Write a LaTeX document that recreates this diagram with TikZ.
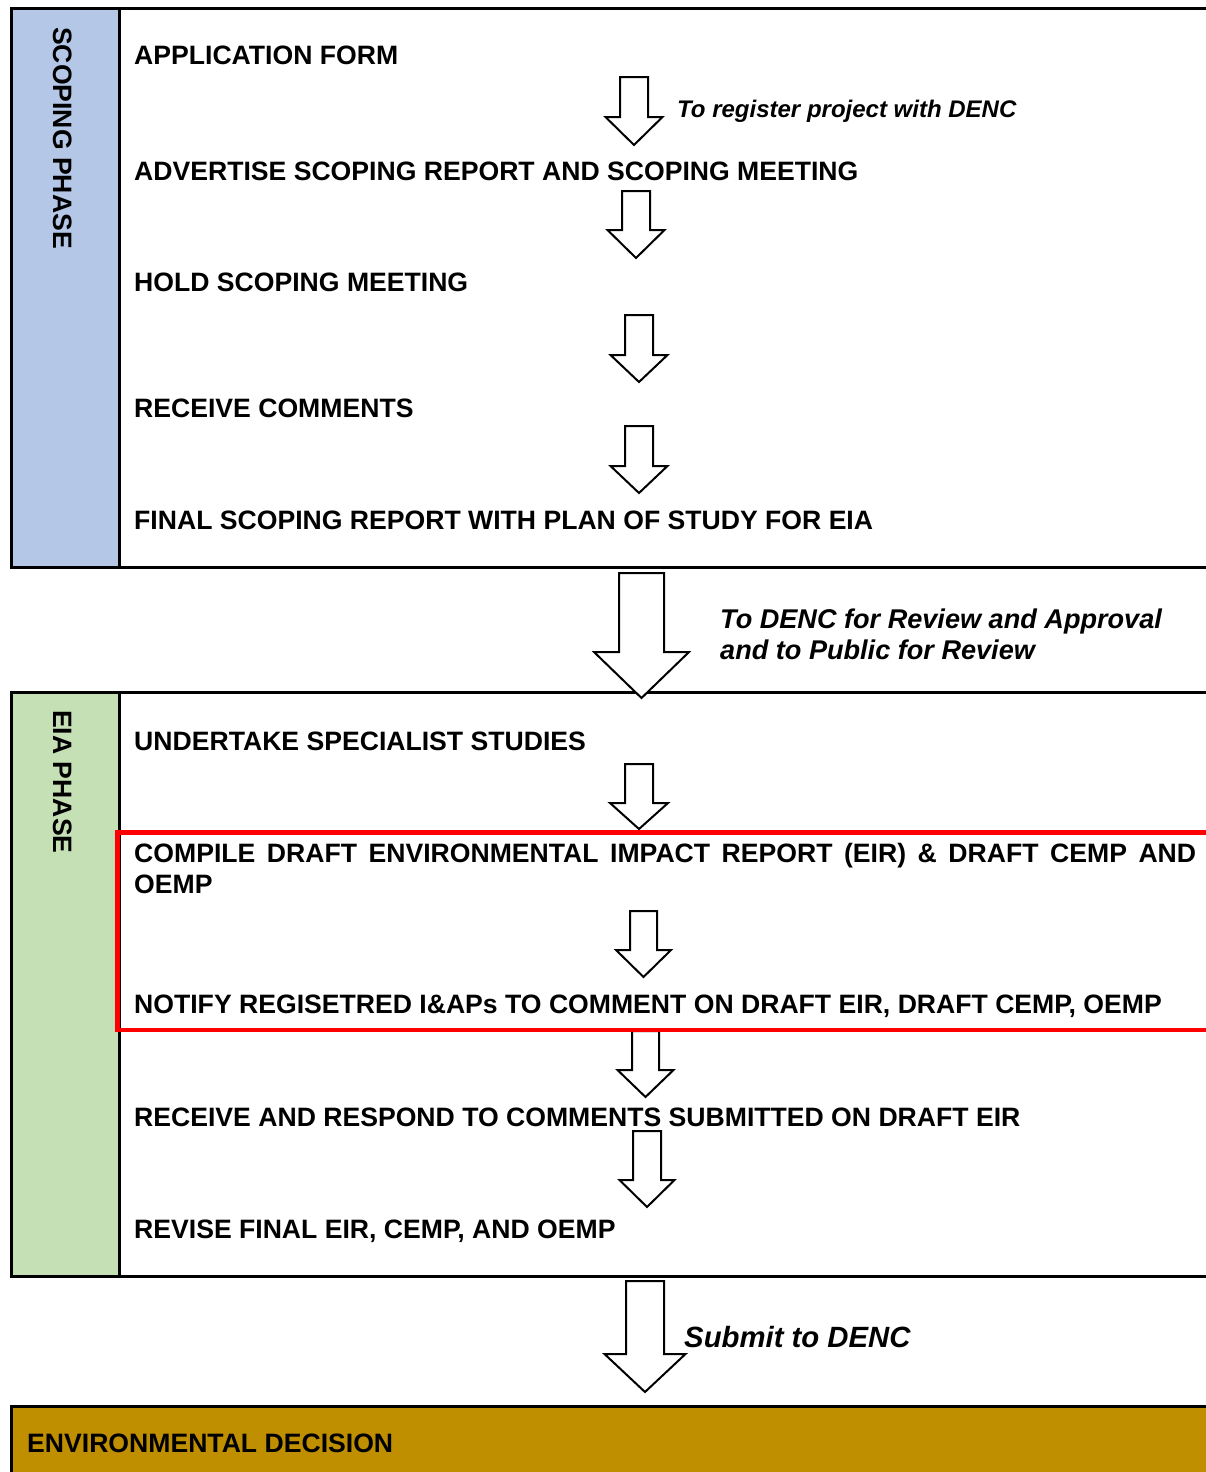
\documentclass[tikz,border=0pt]{standalone}
\usepackage{fontspec}
\setmainfont{Liberation Sans}
\definecolor{scopeblue}{HTML}{B4C7E7}
\definecolor{eiagreen}{HTML}{C5E0B4}
\definecolor{decgold}{HTML}{BF8F00}
% block arrow: centre x, top y, head y, tip y, shaft half width, head half width
\newcommand\blkarrow[6]{%
  \draw[blk] ({#1-#5},#2) -- ({#1+#5},#2) -- ({#1+#5},#3) -- ({#1+#6},#3)
    -- (#1,#4) -- ({#1-#6},#3) -- ({#1-#5},#3) -- cycle;}
\begin{document}
\begin{tikzpicture}[x=1pt,y=-1pt,
  frame/.style={line width=3pt, line join=miter},
  lbl/.style={anchor=base west, inner sep=0pt, font=\fontsize{26.6}{30}\selectfont\bfseries},
  note/.style={anchor=base west, inner sep=0pt, font=\fontsize{24}{30}\selectfont\bfseries\itshape},
  bignote/.style={anchor=base west, inner sep=0pt, font=\fontsize{27.1}{31}\selectfont\bfseries\itshape},
  side/.style={anchor=base west, inner sep=0pt, rotate=-90, font=\fontsize{26.6}{30}\selectfont\bfseries},
  blk/.style={draw=black, fill=white, line width=2pt, line join=miter},
  hilite/.style={draw=red, line width=4.5pt, line join=miter}]
\useasboundingbox (0,0) rectangle (1206,1472);
\clip (0,0) rectangle (1206,1472);
\fill[white] (0,0) rectangle (1206,1472);

% ---------- scoping phase box ----------
\fill[scopeblue] (11,9) rectangle (119,567);
\draw[frame] (1215,9) -- (11,9) -- (11,567) -- (1215,567);
\draw[frame] (119,9) -- (119,567);
\node[side] (scope) at (53,27) {SCOPING PHASE};

% ---------- EIA phase box ----------
\fill[eiagreen] (11,692) rectangle (119,1276);
\draw[frame] (1215,692) -- (11,692) -- (11,1276) -- (1215,1276);
\draw[frame] (119,692) -- (119,1276);
\node[side] (eia) at (53,710) {EIA PHASE};

% ---------- decision box ----------
\fill[decgold] (11,1406) rectangle (1215,1480);
\draw[frame] (1215,1406) -- (11,1406) -- (11,1480);

% ---------- block arrows ----------
\blkarrow{634}{77}{117}{145}{14}{28.5}
\blkarrow{636}{191}{230}{258}{14}{28.5}
\blkarrow{639}{315}{355}{382}{14}{28.5}
\blkarrow{639}{426}{466}{493}{14}{28.5}
\blkarrow{641.5}{573}{652}{698}{22.5}{47.5}
\blkarrow{639}{764}{803}{829}{14}{29}
\blkarrow{643.5}{911}{950}{977}{13.5}{27.5}
\blkarrow{645.5}{1031}{1070}{1097}{13.5}{28}
\blkarrow{647}{1131}{1180}{1207}{14}{27.5}
\blkarrow{645}{1281}{1354}{1392}{19}{40.5}

% ---------- highlighted group ----------
\draw[hilite] (1215,832.5) -- (117.5,832.5) -- (117.5,1030) -- (1215,1030);

% ---------- step texts ----------
\node[lbl] (app) at (134,65) {APPLICATION FORM};
\node[lbl] (adv) at (134,180) {ADVERTISE SCOPING REPORT AND SCOPING MEETING};
\node[lbl] (hold) at (134,291) {HOLD SCOPING MEETING};
\node[lbl] (recv) at (134,417) {RECEIVE COMMENTS};
\node[lbl] (final) at (134,529) {FINAL SCOPING REPORT WITH PLAN OF STUDY FOR EIA};
\node[lbl] (spec) at (134,750) {UNDERTAKE SPECIALIST STUDIES};
\node[lbl] (comp) at (134,862) {\makebox[1062pt][s]{COMPILE DRAFT ENVIRONMENTAL IMPACT REPORT (EIR) \& DRAFT CEMP AND}};
\node[lbl] (comp2) at (134,893) {OEMP};
\node[lbl] (notify) at (134,1013) {NOTIFY REGISETRED I\&APs TO COMMENT ON DRAFT EIR, DRAFT CEMP, OEMP};
\node[lbl] (resp) at (134,1126) {RECEIVE AND RESPOND TO COMMENTS SUBMITTED ON DRAFT EIR};
\node[lbl] (rev) at (134,1238) {REVISE FINAL EIR, CEMP, AND OEMP};
\node[lbl] (dec) at (27,1452) {ENVIRONMENTAL DECISION};

% ---------- arrow notes ----------
\node[note] (reg) at (677,117) {To register project with DENC};
\node[bignote] (denc1) at (720,628) {To DENC for Review and Approval};
\node[bignote] (denc2) at (720,659) {and to Public for Review};
\node[anchor=base west, inner sep=0pt, font=\fontsize{29.3}{32}\selectfont\bfseries\itshape] (sub) at (684,1347) {Submit to DENC};
\end{tikzpicture}
\end{document}
